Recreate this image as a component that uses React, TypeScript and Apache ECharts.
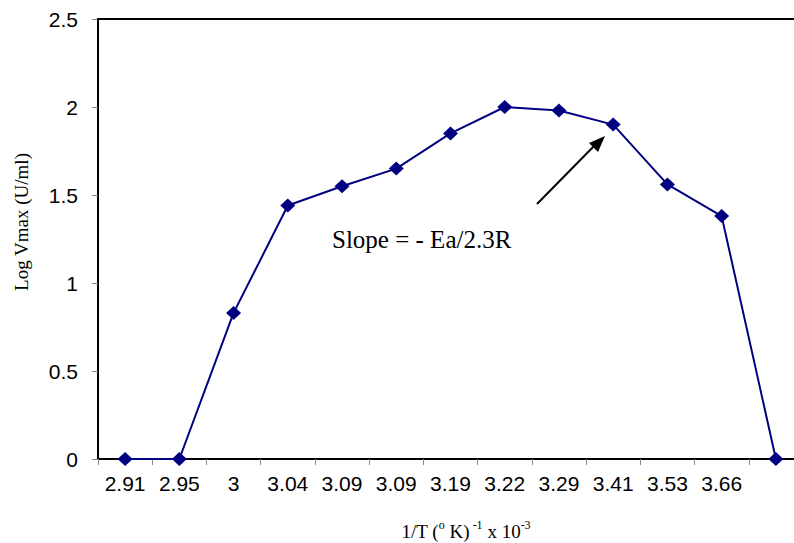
import React, { useEffect, useRef } from "react";
import * as echarts from "echarts";

const categories = ["2.91", "2.95", "3", "3.04", "3.09", "3.09", "3.19", "3.22", "3.29", "3.41", "3.53", "3.66", ""];
const logVmax = [0, 0, 0.83, 1.44, 1.55, 1.65, 1.85, 2.0, 1.98, 1.9, 1.56, 1.38, 0];
const yTicks = [0, 0.5, 1, 1.5, 2, 2.5];

export default function App() {
  const ref = useRef<HTMLDivElement>(null);
  useEffect(() => {
    if (!ref.current) return;
    const chart = echarts.init(ref.current, null, { renderer: "svg" });
    chart.setOption({
      animation: false,
      backgroundColor: "#ffffff",
      grid: { left: 98, top: 19, width: 705, height: 440, show: false, outerBoundsMode: "none", containLabel: false },
      xAxis: {
        type: "category",
        data: categories,
        boundaryGap: true,
        axisLine: { lineStyle: { color: "#000", width: 2 } },
        axisTick: { show: true, length: 6, alignWithLabel: false, lineStyle: { color: "#888", width: 1 } },
        axisLabel: {
          color: "#000",
          fontFamily: "Liberation Sans, Arial, sans-serif",
          fontSize: 21,
          margin: 14,
          interval: 0,
        },
        splitLine: { show: false },
      },
      yAxis: {
        type: "value",
        min: yTicks[0],
        max: yTicks[yTicks.length - 1],
        interval: 0.5,
        axisLine: { show: true, lineStyle: { color: "#000", width: 2 } },
        axisTick: { show: true, length: 6, lineStyle: { color: "#888", width: 1 } },
        axisLabel: {
          color: "#000",
          fontFamily: "Liberation Sans, Arial, sans-serif",
          fontSize: 21,
          margin: 20,
        },
        splitLine: { show: false },
      },
      series: [
        {
          type: "line",
          data: logVmax,
          symbol: "diamond",
          symbolSize: [15, 14],
          showAllSymbol: true,
          lineStyle: { color: "#000080", width: 2 },
          itemStyle: { color: "#000080" },
          clip: false,
          z: 5,
        },
      ],
      graphic: [
        { type: "line", shape: { x1: 97, y1: 19, x2: 794, y2: 19 }, style: { stroke: "#000", lineWidth: 2 }, z: 10 },
        {
          type: "text",
          x: 466,
          y: 530,
          style: {
            text: "{m|1/T (}{s|o}{m| K)}{s| -1}{m| x 10}{s|-3}",
            align: "center",
            verticalAlign: "middle",
            rich: {
              m: { fontFamily: "Liberation Serif, Times New Roman, serif", fontSize: 19, fill: "#000", verticalAlign: "bottom", lineHeight: 22 },
              s: { fontFamily: "Liberation Serif, Times New Roman, serif", fontSize: 12, fill: "#000", verticalAlign: "top", lineHeight: 22 },
            },
          },
        },
        {
          type: "text",
          x: 21,
          y: 222,
          rotation: Math.PI / 2,
          style: {
            text: "Log Vmax (U/ml)",
            align: "center",
            verticalAlign: "middle",
            fontFamily: "Liberation Serif, Times New Roman, serif",
            fontSize: 19,
            fill: "#000",
          },
        },
        {
          type: "text",
          x: 332,
          y: 239,
          style: {
            text: "Slope = - Ea/2.3R",
            align: "left",
            verticalAlign: "middle",
            fontFamily: "Liberation Serif, Times New Roman, serif",
            fontSize: 25,
            fill: "#000",
          },
        },
        { type: "line", shape: { x1: 537, y1: 204, x2: 597, y2: 143 }, style: { stroke: "#000", lineWidth: 2 } },
        { type: "polygon", shape: { points: [[605, 136], [589, 143], [598, 152]] }, style: { fill: "#000" } },
      ],
    });
    return () => chart.dispose();
  }, []);
  return <div ref={ref} style={{ position: "fixed", left: 0, top: 0, width: 794, height: 543 }} />;
}
